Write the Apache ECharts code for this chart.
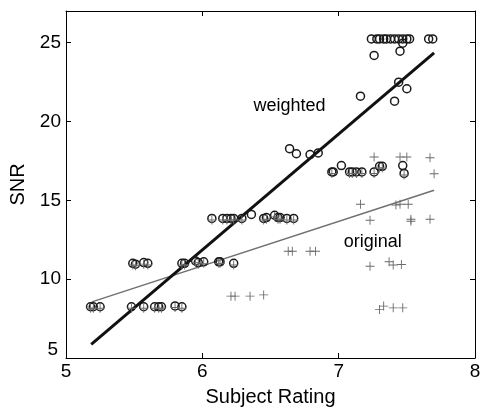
<!DOCTYPE html>
<html>
<head>
<meta charset="utf-8">
<script src="https://cdn.jsdelivr.net/npm/echarts@6/dist/echarts.min.js"></script>
<style>html,body{margin:0;padding:0;background:#fff}#c{width:481px;height:410px}</style>
</head>
<body>
<div id="c"></div>
<script>
// weighted SNR (circles)
const wX = [5.18,5.20,5.25,5.48,5.57,5.65,5.68,5.70,5.80,5.85,
  5.49,5.51,5.57,5.60,
  5.85,5.87,5.95,5.97,6.01,6.12,6.13,6.23,
  6.07,6.15,6.18,6.21,6.23,6.29,6.36,6.45,6.47,6.53,6.555,6.57,6.62,6.67,
  6.64,6.69,6.79,6.85,
  6.95,6.96,7.02,7.08,7.10,7.13,7.17,7.26,7.30,7.32,7.47,7.48,
  7.16,7.41,7.44,7.50,7.26,7.45,
  7.24,7.28,7.30,7.33,7.35,7.38,7.41,7.44,7.47,7.50,7.52,7.66,7.69,7.47];
const wY = [8.25,8.25,8.25,8.25,8.25,8.25,8.25,8.25,8.3,8.25,
  11.0,10.95,11.05,11.0,
  11.0,11.0,11.15,11.05,11.1,11.1,11.1,11.0,
  13.85,13.85,13.85,13.85,13.85,13.85,14.1,13.85,13.9,14.05,13.9,13.9,13.85,13.85,
  18.27,17.95,17.9,18.0,
  16.8,16.8,17.2,16.8,16.8,16.8,16.8,16.8,17.15,17.15,17.2,16.7,
  21.6,21.28,22.49,22.07,24.18,24.45,
  25.23,25.23,25.23,25.23,25.23,25.23,25.23,25.23,25.23,25.23,25.23,25.23,25.23,24.96];
// original SNR (plus signs)
const oX = [5.18,5.20,5.25,5.48,5.57,5.65,5.68,5.70,5.80,5.85,
  5.49,5.51,5.57,5.60,5.85,5.87,5.95,5.97,6.01,6.12,6.13,6.23,
  6.07,6.15,6.18,6.21,6.23,6.29,6.45,6.47,6.53,6.555,6.57,6.62,6.67,
  6.95,7.08,7.10,7.13,7.17,7.26,7.30,7.32,7.48,
  6.21,6.24,6.35,6.45,
  6.63,6.66,6.79,6.83,
  7.26,7.45,7.50,7.67,7.70,
  7.16,7.42,7.45,7.51,
  7.23,7.53,7.53,7.67,
  7.23,7.37,7.40,7.46,
  7.30,7.33,7.40,7.47];
const oY = [8.15,8.15,8.15,8.15,8.15,8.15,8.15,8.15,8.2,8.15,
  10.9,10.85,10.95,10.9,10.9,10.9,11.05,10.95,11.0,11.0,11.0,10.9,
  13.75,13.75,13.75,13.75,13.75,13.75,13.75,13.8,13.95,13.8,13.8,13.75,13.75,
  16.7,16.7,16.7,16.7,16.7,16.7,17.05,17.05,16.6,
  8.92,8.92,8.92,9.0,
  11.77,11.77,11.77,11.77,
  17.74,17.74,17.74,17.7,16.68,
  14.75,14.7,14.75,14.75,
  13.73,13.8,13.67,13.8,
  10.82,11.1,10.9,10.93,
  8.08,8.29,8.18,8.18];
// fitted regression lines (end points)
const fitWeighted = [[5.185,5.87],[7.70,24.35]];
const fitOriginal = [[5.19,8.56],[7.70,15.63]];
// annotations
const notes = [{name:'weighted', x:6.64, y:21.0},{name:'original', x:7.25, y:12.34}];
const xTicks = [5,6,7,8];
const yTicks = [5,10,15,20,25];

const font = 'Liberation Sans, Arial, sans-serif';
const plus = 'path://M4.5,0 h1 v4.5 h4.5 v1 h-4.5 v4.5 h-1 v-4.5 h-4.5 v-1 h4.5 z';
const chart = echarts.init(document.getElementById('c'));
const axisCommon = {
  axisLine:{show:true, onZero:false, lineStyle:{color:'#000', width:1}},
  axisTick:{show:true, inside:true, length:5, lineStyle:{color:'#000'}},
  splitLine:{show:false}
};
chart.setOption({
  backgroundColor:'#fff',
  animation:false,
  grid:{left:66, right:6, top:11, bottom:52, containLabel:false, outerBoundsMode:'none'},
  xAxis:[
    Object.assign({type:'value', min:5, max:8, interval:1, position:'bottom',
      name:'Subject Rating', nameLocation:'middle', nameGap:29,
      nameTextStyle:{fontFamily:font, fontSize:20, color:'#000'},
      axisLabel:{fontFamily:font, fontSize:19, color:'#000', margin:4,
        formatter:v=>xTicks.includes(v)?String(v):''}}, axisCommon),
    Object.assign({type:'value', min:5, max:8, interval:1, position:'top',
      axisLabel:{show:false}}, axisCommon)
  ],
  yAxis:[
    Object.assign({type:'value', min:5, max:27, interval:5, position:'left',
      name:'SNR', nameLocation:'middle', nameGap:29,
      nameTextStyle:{fontFamily:font, fontSize:20, color:'#000'},
      axisLabel:{fontFamily:font, fontSize:19, color:'#000', margin:5,
        formatter:v=>yTicks.includes(v)?(v===5?'{low|5}':String(v)):'',
        rich:{low:{fontFamily:font, fontSize:19, color:'#000', padding:[0,3,16,0]}}}}, axisCommon),
    Object.assign({type:'value', min:5, max:27, interval:5, position:'right',
      axisLabel:{show:false}}, axisCommon)
  ],
  series:[
    {type:'line', data:fitOriginal, symbol:'none', lineStyle:{color:'#707070', width:1.5}, z:2},
    {type:'line', data:fitWeighted, symbol:'none', lineStyle:{color:'#111', width:3}, z:3},
    {type:'scatter', data:wX.map((x,i)=>[x,wY[i]]), symbol:'circle', symbolSize:8,
      itemStyle:{color:'rgba(255,255,255,0)', borderColor:'#1a1a1a', borderWidth:1.5, opacity:1}, z:4},
    {type:'scatter', data:oX.map((x,i)=>[x,oY[i]]), symbol:plus, symbolSize:9,
      itemStyle:{color:'#6a6a6a', opacity:1}, z:5},
    {type:'scatter', data:notes.map(n=>({name:n.name, value:[n.x,n.y]})), symbolSize:0,
      itemStyle:{opacity:1},
      label:{show:true, position:'inside', formatter:'{b}', fontFamily:font, fontSize:18, color:'#000'}, z:6}
  ]
});
</script>
</body>
</html>
